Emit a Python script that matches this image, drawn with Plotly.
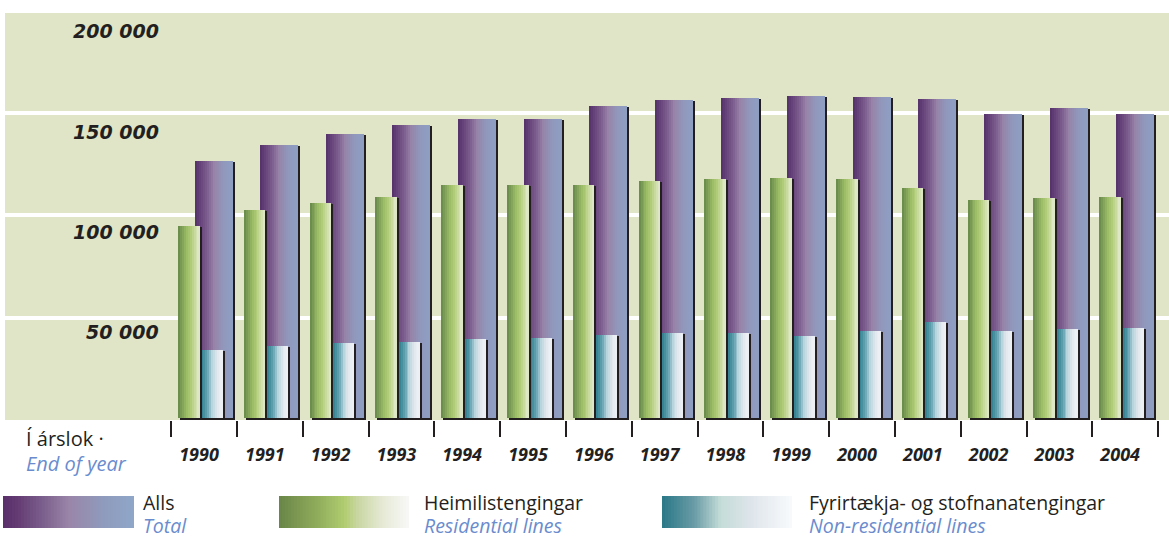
import plotly.graph_objects as go

# ---------------- data ----------------
years = [str(y) for y in range(1990, 2005)]
total = [126500, 134300, 139700, 144100, 147000, 147000, 153400, 156300,
         157300, 158300, 157800, 156800, 149500, 152400, 149500]
residential = [94800, 102600, 106000, 108900, 114800, 114800, 114800, 116800,
               117700, 118200, 117700, 113300, 107500, 108500, 108900]
non_residential = [34200, 36200, 37600, 38100, 39600, 40100, 41500, 42500,
                   42500, 41000, 43500, 47900, 43500, 44500, 44900]
y_ticks = [50000, 100000, 150000, 200000]
y_tick_text = ["50 000", "100 000", "150 000", "200 000"]

# ---------------- helpers ----------------
W, H = 1169, 539
ML, MR, MT, MB = 5, 0, 9, 119
PW, PH = W - ML - MR, H - MT - MB
YMAX = 200800
BASE = 1000          # small lift so the dark shadow shows under bars
SH_DX = 2 / 65.8     # shadow shift (category units)
DARK = "#231f20"
BLUE = "#6a8cce"


def hex2rgb(h):
    h = h.lstrip("#")
    return tuple(int(h[i:i + 2], 16) for i in (0, 2, 4))


def interp(stops, t):
    for (t0, c0), (t1, c1) in zip(stops[:-1], stops[1:]):
        if t0 <= t <= t1:
            f = 0 if t1 == t0 else (t - t0) / (t1 - t0)
            a, b = hex2rgb(c0), hex2rgb(c1)
            return "rgb(%d,%d,%d)" % tuple(round(a[i] + (b[i] - a[i]) * f) for i in range(3))
    return stops[-1][1]


def px2x(px):
    return (px - ML) / PW


def py2y(py):
    return (H - MB - py) / PH


purple_bar = [(0, "#55306a"), (0.3, "#7a5a8c"), (0.5, "#9782a8"), (0.75, "#9098bc"), (1, "#8e9fc4")]
green_bar = [(0, "#66884a"), (0.4, "#9cbd66"), (0.6, "#b2cd7a"), (0.85, "#d2e0ae"), (1, "#e2ead0")]
teal_bar = [(0, "#2e7e8e"), (0.3, "#6aa6b4"), (0.5, "#b8d4dc"), (0.75, "#e2e8ee"), (1, "#eef2f6")]

purple_leg = [(0, "#5a2f6b"), (0.1, "#633a72"), (0.3, "#7a5e8c"), (0.5, "#9a85a8"), (0.75, "#8f9abb"), (1, "#8fa7c9")]
green_leg = [(0, "#6a8548"), (0.3, "#90ad5c"), (0.5, "#b0cc70"), (0.6, "#c8d6a0"), (0.8, "#e6ead6"), (1, "#f8f8f8")]
teal_leg = [(0, "#2a7888"), (0.25, "#6a9ca6"), (0.45, "#c4dcd8"), (0.7, "#e0e6ec"), (1, "#f8fafc")]

fig = go.Figure()


def add_series(values, offset, width, stops, n):
    # shadow
    fig.add_trace(go.Bar(
        x=years, y=[v - 500 for v in values], base=0,
        offset=offset + SH_DX, width=width,
        marker=dict(color=DARK, line=dict(width=0)),
        hoverinfo="skip", showlegend=False))
    step = width / n
    for i in range(n):
        off = offset + i * step
        w = min(step * 1.35, offset + width - off)
        fig.add_trace(go.Bar(
            x=years, y=[v - BASE for v in values], base=BASE,
            offset=off, width=w,
            marker=dict(color=interp(stops, (i + 0.5) / n), line=dict(width=0)),
            hoverinfo="skip", showlegend=False))


add_series(total, -9.5 / 65.8, 38 / 65.8, purple_bar, 19)
add_series(residential, -26 / 65.8, 21.5 / 65.8, green_bar, 11)
add_series(non_residential, -2.5 / 65.8, 21 / 65.8, teal_bar, 11)

# ---------------- annotations ----------------
ann = []
for v, t in zip(y_ticks, y_tick_text):
    ann.append(dict(x=px2x(161), xref="paper", y=v, yref="y", text=t,
                    xanchor="right", yanchor="middle", showarrow=False,
                    yshift=-(12 + 2.2 * v / 50000),
                    font=dict(family="DejaVu Sans", size=19, color=DARK,
                              style="italic", weight="bold")))


def two_lines(px, py, top, bottom, base=18, size=19.5):
    s = ("<span style='font-size:%spx'>%s</span><br>"
         "<span style='font-size:%spx;color:%s'><i>%s</i></span>"
         % (size, top, size, BLUE, bottom))
    ann.append(dict(x=px2x(px), xref="paper", y=py2y(py), yref="paper", text=s,
                    xanchor="left", yanchor="middle", align="left", showarrow=False,
                    font=dict(family="Open Sans", size=base, color=DARK)))


two_lines(24, 451, "Í árslok ·", "End of year", base=19, size=20)
two_lines(141, 514, "Alls", "Total")
two_lines(422, 514, "Heimilistengingar", "Residential lines")
two_lines(807, 514, "Fyrirtækja- og stofnanatengingar", "Non-residential lines")

# legend swatches as strips of shapes
shapes = []


def swatch(x0, x1, y0, y1, stops, n=44):
    step = (x1 - x0) / n
    for i in range(n):
        a = x0 + i * step
        b = min(a + step * 1.4, x1)
        shapes.append(dict(type="rect", xref="paper", yref="paper",
                           x0=px2x(a), x1=px2x(b), y0=py2y(y1), y1=py2y(y0),
                           fillcolor=interp(stops, (i + 0.5) / n),
                           line=dict(width=0), layer="above"))


swatch(3, 134, 496, 528, purple_leg)
swatch(279, 409, 496, 528, green_leg)
swatch(662, 792, 496, 528, teal_leg)

fig.update_layout(
    width=W, height=H,
    margin=dict(l=ML, r=MR, t=MT, b=MB, pad=0),
    paper_bgcolor="white", plot_bgcolor="#dfe5c6",
    barmode="overlay", bargap=0,
    showlegend=False,
    annotations=ann, shapes=shapes,
    xaxis=dict(type="category", range=[(ML - 204) / 65.8, (W - MR - 204) / 65.8],
               tickson="boundaries", ticks="outside", ticklen=16, tickwidth=2,
               tickcolor=DARK, showgrid=False, showline=False, zeroline=False,
               ticklabelstandoff=22, ticklabelshift=-5,
               tickfont=dict(family="Open Sans", size=18, color=DARK,
                             style="italic", weight="bold"),
               fixedrange=True),
    yaxis=dict(range=[0, YMAX], tickvals=y_ticks, showticklabels=False,
               showgrid=True, gridcolor="white", gridwidth=4, zeroline=False,
               showline=False, ticks="", fixedrange=True),
)

fig.write_html(
    "out.html",
    config={"displayModeBar": False},
    post_script="document.body.style.margin='0px';document.body.style.overflow='hidden';",
)
